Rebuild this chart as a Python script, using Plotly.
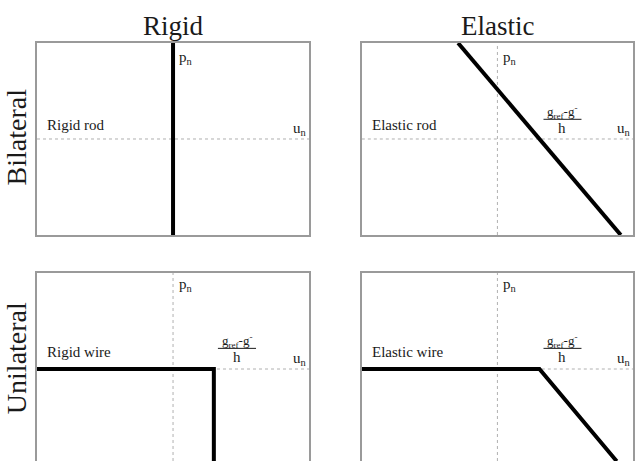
import plotly.graph_objects as go

## contact laws: normal impulse p_n vs normal velocity u_n
col_titles = ['Rigid', 'Elastic']
row_titles = ['Bilateral', 'Unilateral']
panel_names = ['Rigid rod', 'Elastic rod', 'Rigid wire', 'Elastic wire']

rigid_rod_u = [0, 0]
rigid_rod_p = [-1, 1]
elastic_rod_u = [-0.29, 0.91]
elastic_rod_p = [1, -1]
rigid_wire_u = [-1, 0.30, 0.30]
rigid_wire_p = [0, 0, -0.96]
elastic_wire_u = [-1, 0.31, 0.88]
elastic_wire_p = [0, 0, -0.96]
gap_u = [0.30, 0.31, 0.30, 0.31]   # (g_ref - g-)/h marker, only in panels 2-4

curves = [(rigid_rod_u, rigid_rod_p), (elastic_rod_u, elastic_rod_p),
          (rigid_wire_u, rigid_wire_p), (elastic_wire_u, elastic_wire_p)]

FONT = 'Liberation Serif'
GREY = '#9a9a9a'
TXT = '#1a1a1a'

x_domains = [[0, 0.4565], [0.545, 1]]
y_domains = [[0.5407, 1], [0, 0.4498]]

fig = go.Figure()
layout = {}
annotations = []
shapes = []

for i, (u, p) in enumerate(curves):
    r, c = divmod(i, 2)
    n = '' if i == 0 else str(i + 1)
    xa, ya = 'x' + n, 'y' + n
    yrange = [-1, 1] if r == 0 else [-0.958, 1]

    layout['xaxis' + n] = dict(domain=x_domains[c], range=[-1, 1], anchor=ya,
                               showgrid=False, zeroline=False, showticklabels=False, ticks='',
                               showline=True, linecolor=GREY, linewidth=2,
                               mirror=(r == 0), side='bottom' if r == 0 else 'top')
    layout['yaxis' + n] = dict(domain=y_domains[r], range=yrange, anchor=xa,
                               showgrid=False, zeroline=False, showticklabels=False, ticks='',
                               showline=True, linecolor=GREY, linewidth=2, mirror=True)

    # dotted coordinate axes through the origin
    shapes.append(dict(type='line', xref=xa + ' domain', yref=ya, x0=0, x1=1, y0=0, y1=0,
                       line=dict(color='#b0b0b0', width=1, dash='dot'), layer='below'))
    shapes.append(dict(type='line', xref=xa, yref=ya + ' domain', x0=0, x1=0, y0=0, y1=1,
                       line=dict(color='#b0b0b0', width=1, dash='dot'), layer='below'))

    fig.add_trace(go.Scatter(x=u, y=p, mode='lines', xaxis=xa, yaxis=ya,
                             line=dict(color='black', width=4), showlegend=False,
                             hoverinfo='skip'))

    ly = 0.15 if r == 0 else 0.18
    annotations.append(dict(x=-0.94, y=ly, xref=xa, yref=ya, text=panel_names[i],
                            showarrow=False, xanchor='left', yanchor='middle',
                            font=dict(family=FONT, size=15, color=TXT)))
    py = 0.84 if r == 0 else 0.875
    annotations.append(dict(x=0.03, y=py, xref=xa, yref=ya, text='p<sub>n</sub>',
                            showarrow=False, xanchor='left', yanchor='middle',
                            font=dict(family=FONT, size=15, color=TXT)))
    annotations.append(dict(x=1.0, y=0.1, xref=xa, yref=ya, text='u<sub>n</sub>',
                            showarrow=False, xanchor='right', yanchor='middle',
                            font=dict(family=FONT, size=15, color=TXT)))

    if i > 0:
        gx = gap_u[i] + 0.17
        ny = 0.28 if r == 0 else 0.29
        annotations.append(dict(x=gx, y=ny, xref=xa, yref=ya,
                                text='g<sub>ref</sub>-g<sup>-</sup>',
                                showarrow=False, xanchor='center', yanchor='middle',
                                font=dict(family=FONT, size=13, color=TXT)))
        shapes.append(dict(type='line', xref=xa, yref=ya, x0=gx - 0.14, x1=gx + 0.14,
                           y0=ny - 0.075, y1=ny - 0.075, line=dict(color=TXT, width=1)))
        annotations.append(dict(x=gx, y=ny - 0.17, xref=xa, yref=ya, text='h',
                                showarrow=False, xanchor='center', yanchor='middle',
                                font=dict(family=FONT, size=15, color=TXT)))

# column and row headings
for c, t in enumerate(col_titles):
    annotations.append(dict(x=sum(x_domains[c]) / 2, y=1, xref='paper', yref='paper',
                            text=t, showarrow=False, xanchor='center', yanchor='bottom',
                            yshift=0, font=dict(family=FONT, size=27, color=TXT)))
for r, t in enumerate(row_titles):
    annotations.append(dict(x=0, y=sum(y_domains[r]) / 2 + (0.005 if r == 0 else 0.02),
                            xref='paper', yref='paper', text=t, showarrow=False,
                            textangle=-90, xanchor='right', yanchor='middle', xshift=-3,
                            font=dict(family=FONT, size=28, color=TXT)))

fig.update_layout(**layout)
fig.update_layout(width=635, height=461, margin=dict(l=37, r=2, t=43, b=0),
                  paper_bgcolor='white', plot_bgcolor='white',
                  annotations=annotations, shapes=shapes)

# drop the browser's default body margin so the figure fills the window
fig.write_html('out.html', config={'displayModeBar': False},
               post_script="document.body.style.margin='0';document.body.style.overflow='hidden';")
